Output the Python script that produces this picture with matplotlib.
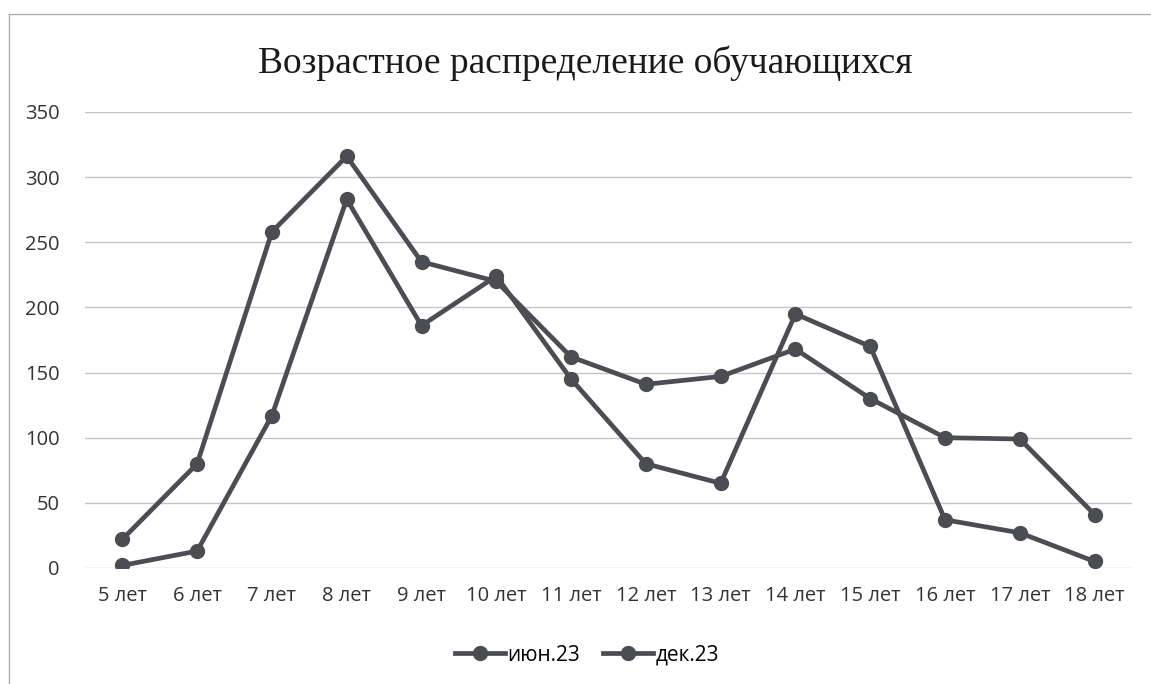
import matplotlib
matplotlib.use("Agg")
import matplotlib.pyplot as plt
from matplotlib.lines import Line2D

# age groups
ages = ["5 лет", "6 лет", "7 лет", "8 лет", "9 лет", "10 лет", "11 лет",
        "12 лет", "13 лет", "14 лет", "15 лет", "16 лет", "17 лет", "18 лет"]

# number of pupils
jun23 = [22, 80, 258, 316, 235, 220, 162, 141, 147, 168, 130, 100, 99, 41]
dec23 = [2, 13, 117, 283, 186, 224, 145, 80, 65, 195, 170, 37, 27, 5]

line_color = "#4b4d52"

plt.rcParams['font.family'] = ['Open Sans', 'DejaVu Sans']

fig = plt.figure(figsize=(11.51, 6.84), dpi=100)
ax = fig.add_axes([0.0738, 0.1696, 0.9097, 0.6667])

x = list(range(len(ages)))
ax.plot(x, jun23, color=line_color, lw=3.4, marker="o", ms=10, label="июн.23")
ax.plot(x, dec23, color=line_color, lw=3.4, marker="o", ms=10, label="дек.23")

ax.set_xlim(-0.5, len(ages) - 0.5)
ax.set_ylim(0, 350)
ax.set_yticks(range(0, 351, 50))
ax.set_xticks(x)
ax.set_xticklabels(ages)
ax.tick_params(length=0, labelsize=14.5, labelcolor="#333333")
ax.tick_params(axis="y", pad=18)
ax.tick_params(axis="x", pad=13)
ax.grid(axis="y", color="#c4c4c4", lw=1)
ax.set_axisbelow(True)
for s in ax.spines.values():
    s.set_visible(False)

fig.text(0.508, 0.908, "Возрастное распределение обучающихся",
         ha="center", va="center", fontsize=27, family="Liberation Serif",
         color="#1a1a1a")

handles = [Line2D([], [], color=line_color, lw=3.4, marker="o", ms=10)
           for _ in range(2)]
fig.legend(handles, ["июн.23", "дек.23"], loc="center", bbox_to_anchor=(0.51, 0.042),
           ncol=2, frameon=False, fontsize=15, handlelength=2.4,
           columnspacing=1.1, handletextpad=0.1)

# chart area border (left and top edges visible in the scan)
fig.add_artist(Line2D([0.008, 0.008], [0.0, 0.98], color="#b0b0b0", lw=1,
                      transform=fig.transFigure))
fig.add_artist(Line2D([0.008, 1.0], [0.98, 0.98], color="#b0b0b0", lw=1,
                      transform=fig.transFigure))

fig.savefig("out.png", dpi=100, facecolor="white")
